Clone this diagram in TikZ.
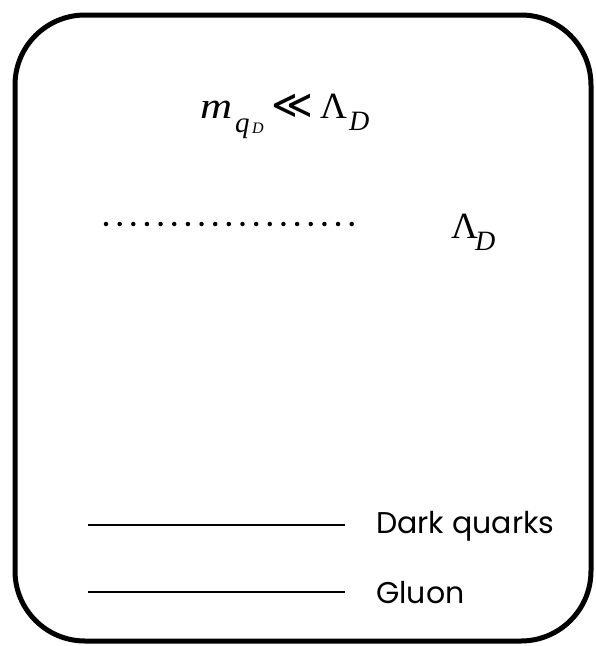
\documentclass[tikz,border=0pt]{standalone}
\usepackage{fontspec}
\setsansfont{Poppins}
\newfontfamily\mser{Liberation Serif}
\newfontfamily\msym{DejaVu Sans}
\newcommand{\fsz}[1]{\fontsize{#1}{#1}\selectfont}
\newcommand{\piece}[3]{\makebox[#1pt][l]{\raisebox{#2pt}{#3}}}
\begin{document}
\begin{tikzpicture}[x=1pt,y=-1pt,
  frame/.style={line width=5pt,rounded corners=70pt},
  legendline/.style={line width=1.8pt},
  dotline/.style={line width=4.5pt,line cap=round,dash pattern=on 0pt off 13.65pt},
  mathlabel/.style={font=\mser\fsz{37},inner sep=0pt,anchor=base west},
  legendlabel/.style={font=\sffamily\fsz{30},inner sep=0pt,anchor=west}]
\useasboundingbox (0,0) rectangle (596,646);
\draw[frame] (15,15) rectangle (591,641);
\node[mathlabel] (mass) at (200,118) {%
\piece{35}{0}{\itshape\scalebox{1.2}[1]{m}}%
\piece{17}{-14}{\itshape\fsz{29}q}%
\piece{19}{-15}{\itshape\fsz{16}D}%
\piece{49}{0}{\msym\fsz{40}≪}%
\piece{29}{0}{Λ}%
\piece{26}{-12}{\itshape\fsz{28}D}};
\coordinate (d1) at (106,224);
\coordinate (d2) at (352,224);
\draw[dotline] (d1) -- (d2);
\node[mathlabel] (lam) at (451,238) {\piece{24}{0}{Λ}\piece{24}{-12}{\itshape\fsz{28}D}};
\coordinate (q1) at (88,525);
\coordinate (q2) at (345,525);
\coordinate (g1) at (88,592);
\coordinate (g2) at (345,592);
\draw[legendline] (q1) -- (q2);
\draw[legendline] (g1) -- (g2);
\node[legendlabel] (ql) at (376,526) {Dark quarks};
\node[legendlabel] (gl) at (376,593) {Gluon};
\end{tikzpicture}
\end{document}
